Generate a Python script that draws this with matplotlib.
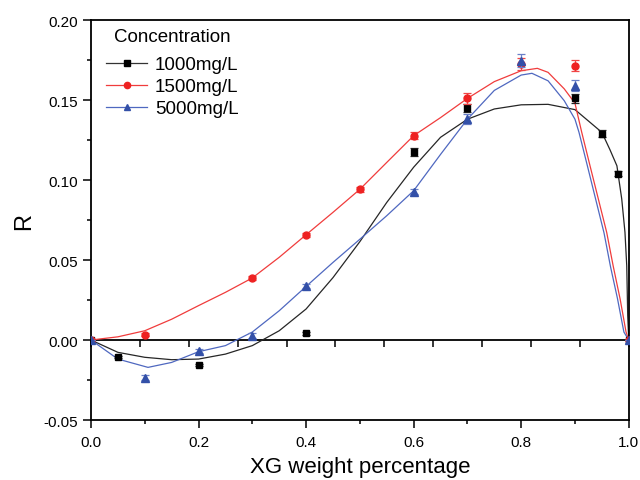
import numpy as np
import matplotlib
matplotlib.use('Agg')
import matplotlib.pyplot as plt

plt.rcParams['font.family'] = ['Liberation Sans', 'DejaVu Sans']

# measured points (x, R, error)
x_1000 = [0.0, 0.05, 0.2, 0.4, 0.6, 0.7, 0.9, 0.95, 0.98, 1.0]
r_1000 = [0.0, -0.0106, -0.0156, 0.0042, 0.1173, 0.145, 0.151, 0.129, 0.104, 0.0]
e_1000 = [0.0, 0.0008, 0.0008, 0.0008, 0.0025, 0.0025, 0.003, 0.0022, 0.0018, 0.0]

x_1500 = [0.0, 0.1, 0.3, 0.4, 0.5, 0.6, 0.7, 0.8, 0.9, 1.0]
r_1500 = [0.0, 0.0033, 0.0388, 0.0658, 0.0943, 0.1277, 0.151, 0.1725, 0.1715, 0.0]
e_1500 = [0.0, 0.001, 0.0012, 0.0012, 0.0015, 0.002, 0.0035, 0.0035, 0.0035, 0.0]

x_5000 = [0.0, 0.1, 0.2, 0.3, 0.4, 0.6, 0.7, 0.8, 0.9, 1.0]
r_5000 = [0.0, -0.0235, -0.007, 0.0027, 0.0335, 0.0927, 0.138, 0.1746, 0.159, 0.0]
e_5000 = [0.0, 0.0015, 0.0012, 0.0015, 0.0012, 0.0015, 0.003, 0.004, 0.0035, 0.0]

# fitted curves
fx_1000 = [0.0, 0.05, 0.1, 0.15, 0.2, 0.25, 0.3, 0.35, 0.4, 0.45, 0.5, 0.55, 0.6, 0.65,
           0.7, 0.75, 0.8, 0.85, 0.9, 0.95, 0.965, 0.978, 0.987, 0.993, 0.9963, 0.9981, 1.0]
fy_1000 = [0.0, -0.0077, -0.0108, -0.0123, -0.0119, -0.0088, -0.0035, 0.0058, 0.0194, 0.039,
           0.0615, 0.086, 0.108, 0.1267, 0.138, 0.1444, 0.147, 0.1473, 0.144, 0.1298, 0.119,
           0.1089, 0.0881, 0.0673, 0.0464, 0.0152, 0.0]

fx_1500 = [0.0, 0.05, 0.1, 0.15, 0.2, 0.25, 0.3, 0.35, 0.4, 0.45, 0.5, 0.55, 0.6, 0.65,
           0.7, 0.75, 0.8, 0.83, 0.85, 0.88, 0.9, 0.9126, 0.928, 0.9435, 0.959, 0.971,
           0.984, 0.995, 1.0]
fy_1500 = [0.0, 0.002, 0.0058, 0.013, 0.0215, 0.0298, 0.0388, 0.0517, 0.0658, 0.0798,
           0.0942, 0.111, 0.1277, 0.139, 0.151, 0.1615, 0.1683, 0.1698, 0.1673, 0.157,
           0.148, 0.1298, 0.1089, 0.0881, 0.0673, 0.0464, 0.0256, 0.005, 0.0]

fx_5000 = [0.0, 0.05, 0.106, 0.15, 0.2, 0.25, 0.3, 0.35, 0.4, 0.45, 0.5, 0.55, 0.6, 0.65,
           0.7, 0.75, 0.8, 0.82, 0.85, 0.88, 0.9, 0.9075, 0.923, 0.9385, 0.954, 0.966,
           0.979, 0.991, 1.0]
fy_5000 = [0.0, -0.0119, -0.0171, -0.014, -0.0073, -0.0035, 0.005, 0.0183, 0.0335, 0.0485,
           0.063, 0.0777, 0.0933, 0.116, 0.138, 0.156, 0.1656, 0.1667, 0.162, 0.1496,
           0.138, 0.1298, 0.109, 0.088, 0.067, 0.046, 0.026, 0.005, 0.0]

labels = ['1000mg/L', '1500mg/L', '5000mg/L']

fig = plt.figure(figsize=(6.4, 4.81), dpi=100)
ax = fig.add_axes([0.1422, 0.1247, 0.8402, 0.8316])

# fit lines
ax.plot(fx_1000, fy_1000, color='#262626', lw=0.9, zorder=2)
ax.plot(fx_1500, fy_1500, color='#f03c3c', lw=0.9, zorder=2)
ax.plot(fx_5000, fy_5000, color='#4f68c0', lw=0.9, zorder=2)

# data points with error bars
ax.errorbar(x_1000, r_1000, yerr=e_1000, fmt='s', ms=4.5, color='black', ecolor='#222222',
            elinewidth=0.9, capsize=3, capthick=0.9, zorder=3)
ax.errorbar(x_1500, r_1500, yerr=e_1500, fmt='o', ms=5, color='#ee2222', ecolor='#f04545',
            elinewidth=0.9, capsize=3, capthick=0.9, zorder=4)
ax.errorbar(x_5000, r_5000, yerr=e_5000, fmt='^', ms=5.5, color='#3350a8', ecolor='#6a80c8',
            elinewidth=0.9, capsize=3, capthick=0.9, zorder=5)

# legend handles: line + marker
h1, = ax.plot([], [], color='#333333', lw=0.9, marker='s', ms=4, mfc='black', mec='black')
h2, = ax.plot([], [], color='#f03c3c', lw=0.9, marker='o', ms=4.5, mfc='#ee2222', mec='#ee2222')
h3, = ax.plot([], [], color='#4f68c0', lw=0.9, marker='^', ms=5, mfc='#3350a8', mec='#3350a8')
leg = ax.legend([h1, h2, h3], labels, title='Concentration', loc='upper left',
                bbox_to_anchor=(0.014, 1.0), frameon=False, fontsize=13.5,
                title_fontsize=13.5, handlelength=2.2, handletextpad=0.4,
                labelspacing=0.26, borderaxespad=0.0)
leg._legend_box.sep = 8.5  # extra gap under the title

ax.set_xlim(0, 1.0)
ax.set_ylim(-0.05, 0.20)
ax.set_xticks(np.arange(0, 1.01, 0.2))
ax.set_xticks(np.arange(0.1, 1.0, 0.2), minor=True)
ax.set_yticks(np.arange(-0.05, 0.201, 0.05))
ax.set_yticks(np.arange(-0.025, 0.2, 0.05), minor=True)
ax.xaxis.set_major_formatter(matplotlib.ticker.FormatStrFormatter('%.1f'))
ax.yaxis.set_major_formatter(matplotlib.ticker.FormatStrFormatter('%.2f'))
ax.tick_params(which='major', direction='out', length=6, width=1.1, labelsize=11, top=False, right=False)
ax.tick_params(which='minor', direction='out', length=3, width=1.1, top=False, right=False)
ax.tick_params(axis='x', pad=5)
for sp in ax.spines.values():
    sp.set_linewidth(1.3)

# axis line at R = 0
zero = ax.secondary_xaxis(0.2, functions=(lambda v: v * 1.1, lambda v: v / 1.1))
zero.set_xticks(np.arange(0, 1.11, 0.1))
zero.tick_params(direction='out', length=5, width=1.1, labelbottom=False)
zero.spines['bottom'].set_linewidth(1.3)

ax.set_xlabel('XG weight percentage', fontsize=16, labelpad=5)
ax.set_ylabel('R', fontsize=17, labelpad=6)

fig.savefig('out.png', dpi=100)
